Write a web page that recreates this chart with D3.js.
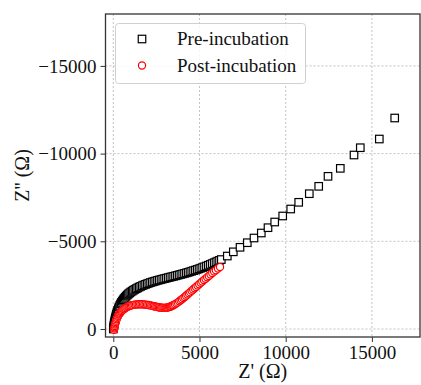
<!DOCTYPE html>
<html>
<head>
<meta charset="utf-8">
<script src="https://cdn.jsdelivr.net/npm/d3@7"></script>
<style>
  html, body { margin: 0; padding: 0; background: #fff; }
  svg { display: block; font-family: "Liberation Serif", "DejaVu Serif", serif; }
</style>
</head>
<body>
<svg id="chart" width="421" height="385"></svg>
<script>
// Pre-incubation: Z' (ohm), Z'' (ohm)
const preRe = [0, 15, 30, 50, 70, 95, 120, 150, 180, 215, 250, 290, 330, 375, 420, 470, 520, 575, 630,
    690, 750, 815, 880, 950, 1020, 1095, 1170, 1250, 1330, 1415, 1500, 1590, 1680, 1775, 1870, 1965,
    2060, 2160, 2260, 2360, 2460, 2560, 2660, 2765, 2870, 2975, 3080, 3185, 3290, 3395, 3500, 3605,
    3710, 3815, 3920, 4025, 4130, 4235, 4340, 4445, 4550, 4655, 4760, 4865, 4970, 5075, 5180, 5290,
    5400, 5510, 5620, 5735, 5850, 5955, 6060, 6160, 6265, 6613, 6961, 7350, 7773, 8161, 8585, 8973,
    9362, 9826, 10290, 10754, 11369, 11914, 12454, 13167, 13962, 14327, 15430, 16323];
const preIm = [0, -100, -200, -310, -420, -530, -640, -750, -860, -960, -1060, -1155, -1250, -1340,
    -1430, -1510, -1590, -1665, -1740, -1810, -1880, -1940, -2000, -2055, -2110, -2160, -2210, -2255,
    -2300, -2345, -2390, -2430, -2470, -2510, -2545, -2580, -2615, -2650, -2680, -2710, -2740, -2770,
    -2795, -2822, -2850, -2875, -2900, -2928, -2955, -2980, -3005, -3032, -3060, -3088, -3115, -3142,
    -3170, -3200, -3230, -3262, -3295, -3328, -3360, -3395, -3430, -3468, -3505, -3548, -3590, -3635,
    -3680, -3730, -3780, -3825, -3870, -3915, -3960, -4160, -4400, -4658, -4920, -5188, -5473, -5776,
    -6100, -6443, -6842, -7224, -7714, -8135, -8705, -9160, -9920, -10336, -10832, -12030];

// Post-incubation
const postRe = [40, 55, 70, 85, 100, 120, 140, 165, 190, 220, 250, 285, 320, 360, 400, 445, 490, 540,
    590, 645, 700, 760, 820, 885, 950, 1020, 1090, 1165, 1240, 1320, 1400, 1480, 1560, 1640, 1720,
    1800, 1880, 1960, 2040, 2120, 2200, 2275, 2350, 2425, 2500, 2570, 2640, 2710, 2780, 2845, 2910,
    2975, 3040, 3100, 3160, 3220, 3280, 3335, 3390, 3445, 3500, 3580, 3660, 3740, 3820, 3900, 3980,
    4060, 4140, 4220, 4300, 4380, 4460, 4545, 4630, 4715, 4800, 4890, 4980, 5070, 5160, 5255, 5350,
    5445, 5540, 5640, 5740, 5845, 5950, 6070, 6190];
const postIm = [50, -25, -100, -175, -250, -325, -400, -475, -550, -620, -690, -755, -820, -875, -930,
    -980, -1030, -1075, -1120, -1160, -1200, -1232, -1265, -1292, -1320, -1340, -1360, -1375, -1390,
    -1398, -1405, -1408, -1410, -1408, -1405, -1398, -1390, -1378, -1365, -1350, -1335, -1318, -1300,
    -1282, -1265, -1250, -1235, -1225, -1215, -1208, -1205, -1206, -1210, -1218, -1230, -1246, -1265,
    -1286, -1310, -1336, -1365, -1412, -1462, -1518, -1576, -1636, -1698, -1762, -1828, -1895, -1963,
    -2032, -2102, -2176, -2250, -2324, -2398, -2475, -2553, -2630, -2707, -2787, -2866, -2945, -3024,
    -3106, -3188, -3272, -3355, -3445, -3530];

const xTicks = [0, 5000, 10000, 15000];
const yTicks = [0, -5000, -10000, -15000];
const seriesNames = ["Pre-incubation", "Post-incubation"];

const svg = d3.select("#chart");
const L = 105.5, R = 420, T = 14, B = 337;

const x = d3.scaleLinear().domain([-452, 17790]).range([L, R]);
const y = d3.scaleLinear().domain([456, -17960]).range([B, T]);

const pre = preRe.map((v, i) => ({ re: v, im: preIm[i] }));
const post = postRe.map((v, i) => ({ re: v, im: postIm[i] }));

// grid
const grid = svg.append("g").attr("stroke", "#b4b4b4").attr("stroke-width", 0.8)
    .attr("stroke-dasharray", "2,2");
xTicks.forEach(t => grid.append("line")
    .attr("x1", x(t)).attr("x2", x(t)).attr("y1", T).attr("y2", B));
yTicks.forEach(t => grid.append("line")
    .attr("x1", L).attr("x2", R).attr("y1", y(t)).attr("y2", y(t)));

svg.append("clipPath").attr("id", "plotclip")
  .append("rect").attr("x", L).attr("y", T).attr("width", R - L).attr("height", B - T);

const marks = svg.append("g").attr("clip-path", "url(#plotclip)");
const S = 7.5;
marks.append("g").selectAll("rect")
    .data(pre)
    .join("rect")
    .attr("x", d => x(d.re) - S / 2)
    .attr("y", d => y(d.im) - S / 2)
    .attr("width", S).attr("height", S)
    .attr("fill", "#fff").attr("stroke", "#000").attr("stroke-width", 1.2);

marks.append("g").selectAll("circle")
    .data(post)
    .join("circle")
    .attr("cx", d => x(d.re))
    .attr("cy", d => y(d.im))
    .attr("r", 3.6)
    .attr("fill", "#fff").attr("stroke", "#ff0000").attr("stroke-width", 1.2);

// axes
const xAxis = svg.append("g").attr("transform", `translate(0,${B})`)
    .call(d3.axisBottom(x).tickValues(xTicks).tickSize(5).tickPadding(3.5).tickFormat(d3.format("d")));
const yAxis = svg.append("g").attr("transform", `translate(${L},0)`)
    .call(d3.axisLeft(y).tickValues(yTicks).tickSize(5).tickPadding(4).tickFormat(d3.format("d")));
[xAxis, yAxis].forEach(a => {
    a.select(".domain").remove();
    a.selectAll(".tick line").attr("stroke", "#333").attr("stroke-width", 1);
    a.selectAll(".tick text").attr("font-size", 19).attr("fill", "#111")
        .attr("font-family", "'Liberation Serif', serif");
});

// spines
svg.append("rect").attr("x", L).attr("y", T).attr("width", R - L).attr("height", B - T)
    .attr("fill", "none").attr("stroke", "#333").attr("stroke-width", 1.3);

// axis labels
svg.append("text").attr("x", (L + R) / 2).attr("y", 378).attr("text-anchor", "middle")
    .attr("font-size", 20).attr("fill", "#111").text("Z'  (Ω)");
svg.append("text").attr("transform", `translate(29,${(T + B) / 2}) rotate(-90)`)
    .attr("text-anchor", "middle").attr("font-size", 20).attr("fill", "#111").text("Z''  (Ω)");

// legend
const lg = svg.append("g");
lg.append("rect").attr("x", 115.5).attr("y", 23.5).attr("width", 190).attr("height", 60).attr("rx", 3)
    .attr("fill", "#fff").attr("fill-opacity", 0.85).attr("stroke", "#d0d0d0").attr("stroke-width", 1);
lg.append("rect").attr("x", 142 - S / 2).attr("y", 39 - S / 2).attr("width", S).attr("height", S)
    .attr("fill", "#fff").attr("stroke", "#000").attr("stroke-width", 1.2);
lg.append("circle").attr("cx", 142).attr("cy", 65.5).attr("r", 3.6)
    .attr("fill", "#fff").attr("stroke", "#ff0000").attr("stroke-width", 1.2);
seriesNames.forEach((n, i) => lg.append("text").attr("x", 177).attr("y", 39 + i * 26.5)
    .attr("dy", "0.34em").attr("font-size", 19).attr("fill", "#111").text(n));
</script>
</body>
</html>
